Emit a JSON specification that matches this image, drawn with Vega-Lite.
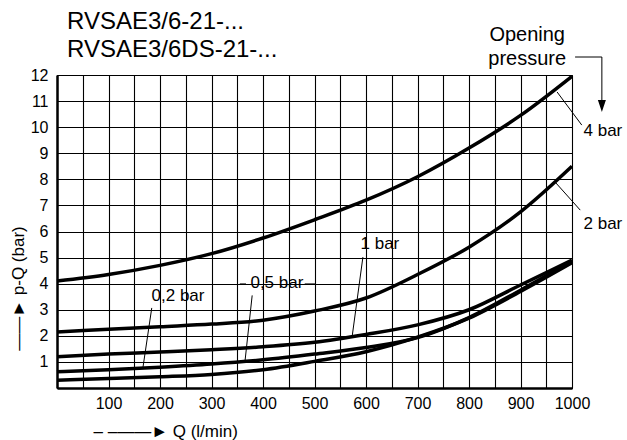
{
  "$schema": "https://vega.github.io/schema/vega-lite/v6.json",
  "width": 515,
  "height": 313,
  "autosize": {"type": "none"},
  "padding": {"left": 57, "top": 75, "right": 55, "bottom": 52},
  "background": "white",
  "config": {
    "font": "Liberation Sans",
    "view": {"stroke": "black", "strokeWidth": 1},
    "axis": {"labelFont": "Liberation Sans", "titleFont": "Liberation Sans"}
  },
  "title": {
    "text": ["RVSAE3/6-21-...", "RVSAE3/6DS-21-..."],
    "anchor": "start",
    "frame": "group",
    "dx": 10,
    "offset": -37,
    "fontSize": 24,
    "fontWeight": "normal",
    "lineHeight": 28,
    "color": "black",
    "font": "Liberation Sans"
  },
  "datasets": {
    "curves": [
      {"q": 0, "p": 4.1, "s": "4 bar"}, {"q": 100, "p": 4.35, "s": "4 bar"}, {"q": 200, "p": 4.7, "s": "4 bar"}, {"q": 300, "p": 5.15, "s": "4 bar"}, {"q": 400, "p": 5.75, "s": "4 bar"}, {"q": 500, "p": 6.45, "s": "4 bar"}, {"q": 600, "p": 7.2, "s": "4 bar"}, {"q": 700, "p": 8.1, "s": "4 bar"}, {"q": 800, "p": 9.2, "s": "4 bar"}, {"q": 900, "p": 10.45, "s": "4 bar"}, {"q": 1000, "p": 11.95, "s": "4 bar"},
      {"q": 0, "p": 2.15, "s": "2 bar"}, {"q": 100, "p": 2.25, "s": "2 bar"}, {"q": 200, "p": 2.35, "s": "2 bar"}, {"q": 300, "p": 2.45, "s": "2 bar"}, {"q": 400, "p": 2.6, "s": "2 bar"}, {"q": 500, "p": 2.95, "s": "2 bar"}, {"q": 600, "p": 3.45, "s": "2 bar"}, {"q": 700, "p": 4.35, "s": "2 bar"}, {"q": 800, "p": 5.4, "s": "2 bar"}, {"q": 900, "p": 6.75, "s": "2 bar"}, {"q": 1000, "p": 8.5, "s": "2 bar"},
      {"q": 0, "p": 1.2, "s": "1 bar"}, {"q": 100, "p": 1.3, "s": "1 bar"}, {"q": 200, "p": 1.38, "s": "1 bar"}, {"q": 300, "p": 1.47, "s": "1 bar"}, {"q": 400, "p": 1.58, "s": "1 bar"}, {"q": 500, "p": 1.75, "s": "1 bar"}, {"q": 600, "p": 2.05, "s": "1 bar"}, {"q": 700, "p": 2.42, "s": "1 bar"}, {"q": 800, "p": 3.0, "s": "1 bar"}, {"q": 900, "p": 3.95, "s": "1 bar"}, {"q": 1000, "p": 4.9, "s": "1 bar"},
      {"q": 0, "p": 0.62, "s": "0,5 bar"}, {"q": 100, "p": 0.7, "s": "0,5 bar"}, {"q": 200, "p": 0.8, "s": "0,5 bar"}, {"q": 300, "p": 0.92, "s": "0,5 bar"}, {"q": 400, "p": 1.08, "s": "0,5 bar"}, {"q": 500, "p": 1.3, "s": "0,5 bar"}, {"q": 600, "p": 1.55, "s": "0,5 bar"}, {"q": 700, "p": 1.93, "s": "0,5 bar"}, {"q": 800, "p": 2.7, "s": "0,5 bar"}, {"q": 900, "p": 3.75, "s": "0,5 bar"}, {"q": 1000, "p": 4.85, "s": "0,5 bar"},
      {"q": 0, "p": 0.3, "s": "0,2 bar"}, {"q": 100, "p": 0.36, "s": "0,2 bar"}, {"q": 200, "p": 0.43, "s": "0,2 bar"}, {"q": 300, "p": 0.52, "s": "0,2 bar"}, {"q": 400, "p": 0.7, "s": "0,2 bar"}, {"q": 500, "p": 1.02, "s": "0,2 bar"}, {"q": 600, "p": 1.39, "s": "0,2 bar"}, {"q": 700, "p": 1.95, "s": "0,2 bar"}, {"q": 800, "p": 2.68, "s": "0,2 bar"}, {"q": 900, "p": 3.7, "s": "0,2 bar"}, {"q": 1000, "p": 4.8, "s": "0,2 bar"}
    ],
    "labels": [
      {"q": 235, "p": 3.52, "t": "0,2 bar"},
      {"q": 427, "p": 4.03, "t": "0,5 bar"},
      {"q": 627, "p": 5.52, "t": "1 bar"},
      {"q": 1060, "p": 9.85, "t": "4 bar"},
      {"q": 1060, "p": 6.29, "t": "2 bar"}
    ],
    "heading": [
      {"q": 913, "p": 13.53, "t": "Opening"},
      {"q": 913, "p": 12.61, "t": "pressure"}
    ],
    "leaders": [
      {"q": 1019, "p": 10.08, "q2": 971, "p2": 11.35},
      {"q": 1016, "p": 6.82, "q2": 967, "p2": 7.9},
      {"q": 594, "p": 5.02, "q2": 573, "p2": 1.96},
      {"q": 379, "p": 3.55, "q2": 365, "p2": 1.02},
      {"q": 355, "p": 3.99, "q2": 367, "p2": 3.99},
      {"q": 481, "p": 3.99, "q2": 503, "p2": 3.99},
      {"q": 184, "p": 3.07, "q2": 167, "p2": 0.8},
      {"q": 1006, "p": 12.69, "q2": 1058, "p2": 12.69},
      {"q": 1058, "p": 12.69, "q2": 1058, "p2": 10.95}
    ],
    "head": [
      {"q": 1058, "p": 10.81}
    ]
  },
  "encoding": {
    "x": {
      "field": "q", "type": "quantitative",
      "scale": {"domain": [0, 1000], "nice": false, "zero": false},
      "axis": {
        "values": [0, 50, 100, 150, 200, 250, 300, 350, 400, 450, 500, 550, 600, 650, 700, 750, 800, 850, 900, 950, 1000],
        "labelExpr": "datum.value % 100 == 0 && datum.value > 0 ? '' + datum.value : ''",
        "grid": true, "gridColor": "black", "gridWidth": 1.1, "gridOpacity": 1,
        "ticks": false, "labelPadding": 7, "labelFontSize": 16, "labelColor": "black",
        "domainColor": "black", "domainWidth": 2.5,
        "labelFlush": false, "labelOverlap": false,
        "title": "– –——►  Q (l/min)", "titleFontSize": 17, "titleFontWeight": "normal", "titleColor": "black",
        "titleAnchor": "start", "titleAlign": "left", "titleX": 36, "titleY": 48, "titleBaseline": "alphabetic"
      }
    },
    "y": {
      "field": "p", "type": "quantitative",
      "scale": {"domain": [0, 12], "nice": false, "zero": false},
      "axis": {
        "values": [0, 1, 2, 3, 4, 5, 6, 7, 8, 9, 10, 11, 12],
        "labelExpr": "datum.value > 0 ? '' + datum.value : ''",
        "grid": true, "gridColor": "black", "gridWidth": 1.1, "gridOpacity": 1,
        "ticks": false, "labelPadding": 9, "labelFontSize": 16, "labelColor": "black",
        "domainColor": "black", "domainWidth": 2.5,
        "labelFlush": false, "labelOverlap": false,
        "title": "——►   p-Q (bar)", "titleFontSize": 17, "titleFontWeight": "normal", "titleColor": "black",
        "titleAlign": "center", "titleX": -34, "titleY": 213, "titleBaseline": "alphabetic", "titleAngle": 270
      }
    }
  },
  "layer": [
    {
      "data": {"name": "curves"},
      "mark": {"type": "line", "color": "black", "strokeWidth": 3.5, "interpolate": "monotone"},
      "encoding": {
        "detail": {"field": "s", "type": "nominal"}
      }
    },
    {
      "data": {"name": "leaders"},
      "mark": {"type": "rule", "color": "black", "strokeWidth": 1},
      "encoding": {
        "x2": {"field": "q2"},
        "y2": {"field": "p2"}
      }
    },
    {
      "data": {"name": "labels"},
      "mark": {"type": "text", "fontSize": 17, "color": "black", "align": "center", "baseline": "middle", "font": "Liberation Sans"},
      "encoding": {
        "text": {"field": "t"}
      }
    },
    {
      "data": {"name": "heading"},
      "mark": {"type": "text", "fontSize": 20, "color": "black", "align": "center", "baseline": "middle", "font": "Liberation Sans"},
      "encoding": {
        "text": {"field": "t"}
      }
    },
    {
      "data": {"name": "head"},
      "mark": {"type": "point", "shape": "M-0.667,-1L0.667,-1L0,1Z", "size": 144, "filled": true, "color": "black", "opacity": 1},
      "encoding": {}
    }
  ]
}
